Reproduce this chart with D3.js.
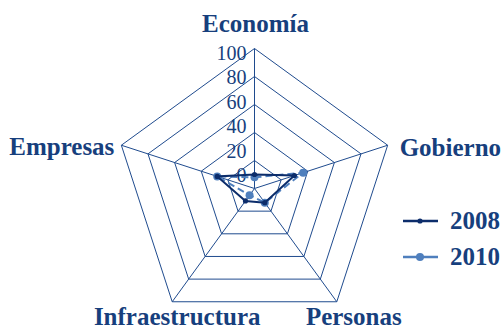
<!DOCTYPE html>
<html>
<head>
<meta charset="utf-8">
<script src="https://cdn.jsdelivr.net/npm/d3@7"></script>
<style>
  body { margin: 0; background: #fff; }
  svg { display: block; }
</style>
</head>
<body>
<svg id="chart" width="503" height="331"></svg>
<script>
// axes go clockwise from the top
const categories = ["Economía", "Gobierno", "Personas", "Infraestructura", "Empresas"]
const ticks = [0, 20, 40, 60, 80, 100]
const years = ["2008", "2010"]
const values2008 = [10, 30, 12.5, 11, 28]
const values2010 = [8, 36.5, 12.5, 6, 28]

const cx = 254.5, cy = 188.5, R = 140
const textColor = "#173f7d"
const gridColor = "#1f4b8e"
const colors = { "2008": "#0c2d6b", "2010": "#4f7fbd" }

const svg = d3.select("#chart")

let r = d3.scaleLinear().domain([0, 100]).range([0, R])
// the tick labels sit a little off the rings, like the original
let labelR = d3.scaleLinear().domain([0, 100]).range([13.5, 136])
let angle = d3.scalePoint().domain(categories).range([0, 2 * Math.PI * 4 / 5])

const pt = (cat, v) => {
    let a = angle(cat)
    return [cx + r(v) * Math.sin(a), cy - r(v) * Math.cos(a)]
}

const g = svg.append("g")

// rings
g.selectAll(".ring")
    .data(ticks.filter(t => t > 0))
    .enter().append("polygon")
    .attr("class", "ring")
    .attr("points", t => categories.map(c => pt(c, t).join(",")).join(" "))
    .attr("fill", "none")
    .attr("stroke", gridColor)
    .attr("stroke-width", 1)

// spokes
g.selectAll(".spoke")
    .data(categories)
    .enter().append("line")
    .attr("x1", cx).attr("y1", cy)
    .attr("x2", c => pt(c, 100)[0])
    .attr("y2", c => pt(c, 100)[1])
    .attr("stroke", gridColor)
    .attr("stroke-width", 1)

// tick labels
g.selectAll(".tick")
    .data(ticks)
    .enter().append("text")
    .attr("x", cx - 8)
    .attr("y", t => cy - labelR(t))
    .attr("dy", "0.35em")
    .attr("text-anchor", "end")
    .style("font-family", "Liberation Serif, Times New Roman, serif")
    .style("font-size", "20px")
    .style("fill", textColor)
    .text(t => t)

// category labels
const labelPos = {
    "Economía": { dx: 1, dy: -17, anchor: "middle" },
    "Gobierno": { dx: 12, dy: 11, anchor: "start" },
    "Personas": { dx: 17, dy: 23, anchor: "middle" },
    "Infraestructura": { dx: 5, dy: 23, anchor: "middle" },
    "Empresas": { dx: -7, dy: 10, anchor: "end" }
}
g.selectAll(".cat")
    .data(categories)
    .enter().append("text")
    .attr("x", c => pt(c, 100)[0] + labelPos[c].dx)
    .attr("y", c => pt(c, 100)[1] + labelPos[c].dy)
    .attr("text-anchor", c => labelPos[c].anchor)
    .style("font-family", "Liberation Serif, Times New Roman, serif")
    .style("font-weight", "bold")
    .style("font-size", "25px")
    .style("fill", textColor)
    .text(c => c)

// series
const series = [
    { name: "2008", values: values2008, dash: null, dot: 2.6 },
    { name: "2010", values: values2010, dash: "7,4", dot: 4 }
]
let line = d3.line().curve(d3.curveLinearClosed)

series.slice().reverse().forEach(s => {
    let pts = categories.map((c, i) => pt(c, s.values[i]))
    g.append("path")
        .datum(pts)
        .attr("d", line)
        .attr("fill", "none")
        .attr("stroke", colors[s.name])
        .attr("stroke-width", 2)
        .attr("stroke-dasharray", s.dash)
    g.selectAll(".dot" + s.name)
        .data(pts)
        .enter().append("circle")
        .attr("cx", d => d[0])
        .attr("cy", d => d[1])
        .attr("r", s.dot)
        .attr("fill", colors[s.name])
})

// legend
let ly = d3.scalePoint().domain(years).range([221, 257])
const legend = svg.append("g")
series.forEach(s => {
    let y = ly(s.name)
    legend.append("line")
        .attr("x1", 403).attr("x2", 438)
        .attr("y1", y).attr("y2", y)
        .attr("stroke", colors[s.name])
        .attr("stroke-width", 2.5)
    legend.append("circle")
        .attr("cx", 420).attr("cy", y)
        .attr("r", s.dot)
        .attr("fill", colors[s.name])
    legend.append("text")
        .attr("x", 450).attr("y", y + 8)
        .style("font-family", "Liberation Serif, Times New Roman, serif")
        .style("font-weight", "bold")
        .style("font-size", "25px")
        .style("fill", textColor)
        .text(s.name)
})
</script>
</body>
</html>
